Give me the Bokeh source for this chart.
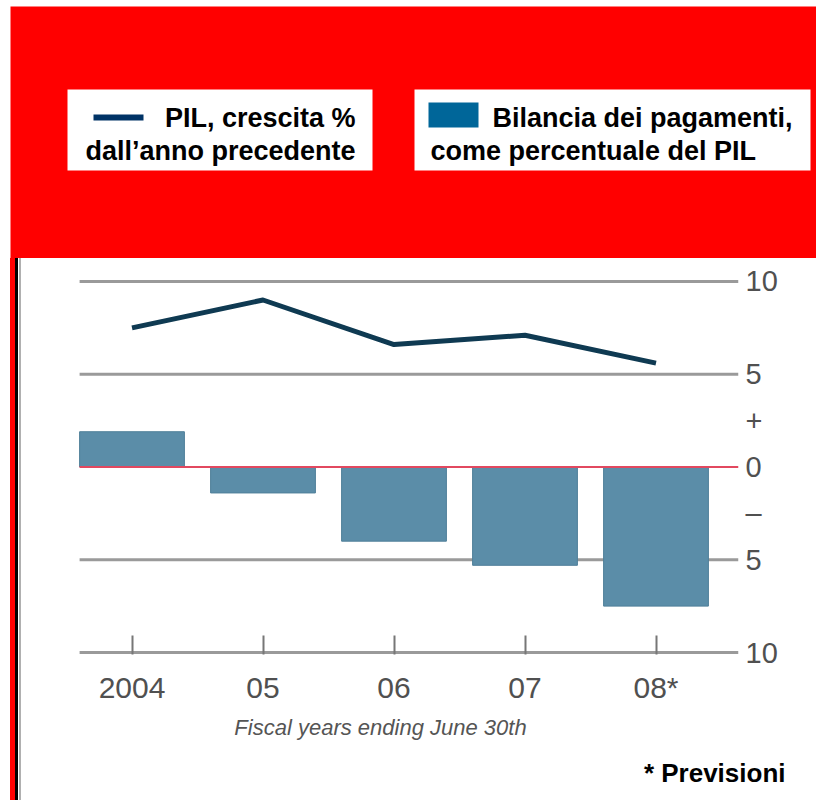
from bokeh.plotting import figure
from bokeh.layouts import column, row
from bokeh.models import (Range1d, FixedTicker, BoxAnnotation, Label, Title, Div)
from bokeh.embed import file_html
from bokeh.resources import INLINE

# ---------------- data ----------------
years = ["2004", "05", "06", "07", "08*"]
gdp_growth = [7.5, 9.0, 6.6, 7.1, 5.6]          # PIL, crescita %
current_account = [1.9, -1.4, -4.0, -5.3, -7.5]  # Bilancia dei pagamenti, % del PIL
y_ticks = [-10, -5, -2.5, 0, 2.5, 5, 10]
y_tick_labels = ["10", "5", "\u2013", "0", "+", "5", "10"]
grid_values = [-10, -5, 5, 10]
bar_width = 0.8

legend_gdp = ["PIL, crescita %", "dall\u2019anno precedente"]
legend_ca = ["Bilancia dei pagamenti,", "come percentuale del PIL"]
x_title = "Fiscal years ending June 30th"
note_text = "* Previsioni"

# ---------------- layout (page pixels) ----------------
W, H = 816, 800
HEAD = 258            # height of the red header
STRIP = 22            # width of the left rule strip
BODY_H = H - HEAD
MAIN_W = W - STRIP

# ---------------- header figure ----------------
head = figure(width=W, height=HEAD, output_backend="svg", toolbar_location=None,
              x_range=Range1d(0, W), y_range=Range1d(0, HEAD),
              min_border=0, min_border_left=0, min_border_right=0,
              min_border_top=0, min_border_bottom=0)
head.axis.visible = False
head.grid.visible = False
head.outline_line_color = None
head.background_fill_color = "white"
head.border_fill_color = "white"


def hbox(l, r, t, b, color):
    head.add_layout(BoxAnnotation(left=l, right=r, top=HEAD - t, bottom=HEAD - b,
                                  fill_color=color, fill_alpha=1.0,
                                  line_color=None))


hbox(10, W + 5, 6, HEAD + 5, "#ff0000")   # red band
hbox(67, 372, 89, 170, "white")           # legend box 1
hbox(414, 810, 89, 170, "white")          # legend box 2
hbox(93, 143, 114, 120, "#003366")        # line sample
hbox(428, 478, 102, 127, "#006699")       # bar sample


def hlab(fx, fy, text, align="left"):
    head.add_layout(Label(x=fx, y=HEAD - fy, text=text, text_align=align,
                          text_baseline="middle", text_font="Liberation Sans",
                          text_font_size="27px", text_font_style="bold",
                          text_color="black"))


hlab(355, 117, legend_gdp[0], align="right")
hlab(355, 150, legend_gdp[1], align="right")
hlab(492, 117, legend_ca[0])
hlab(430, 150, legend_ca[1])

# ---------------- left rule strip (plain block, no text) ----------------
strip = Div(text="", width=STRIP, height=BODY_H,
            styles={"background": "linear-gradient(to right, white 0px, white 10px, "
                                  "#ff0000 10px, #ff0000 15px, #000000 15px, #000000 18px, "
                                  "white 18px, white 19px, #b0b0b0 19px, #b0b0b0 21px, "
                                  "white 21px, white 22px)",
                    "margin": "0", "padding": "0"})

# ---------------- main chart ----------------
FL, FR, FT, FB = STRIP, 738, HEAD, 655     # frame edges in page pixels
CAT0, CAT_STEP = 131.5, 131.0              # page pixel of first category, px per category
ZERO, UNIT = 467.0, 18.6                   # page pixel of y=0, px per unit
X0 = (FL - CAT0) / CAT_STEP
X1 = (FR - CAT0) / CAT_STEP
Y0 = (ZERO - FB) / UNIT
Y1 = (ZERO - FT) / UNIT

xs = list(range(len(years)))

p = figure(width=MAIN_W, height=BODY_H, output_backend="svg",
           toolbar_location=None,
           x_range=Range1d(X0, X1), y_range=Range1d(Y0, Y1),
           x_axis_location="below", y_axis_location="right",
           min_border_left=0, min_border_right=W - FR,
           min_border_top=0, min_border_bottom=H - FB)
p.outline_line_color = None
p.background_fill_color = "white"
p.border_fill_color = "white"
p.xgrid.visible = False
p.ygrid.visible = False

g_left = xs[0] - bar_width / 2
p.segment(x0=[g_left] * len(grid_values), y0=grid_values,
          x1=[X1] * len(grid_values), y1=grid_values,
          line_color="#9a9a9a", line_width=3)

p.vbar(x=xs, top=current_account, bottom=0, width=bar_width,
       fill_color="#5b8da8", line_color="#4f7f99", line_width=1)
p.segment(x0=[g_left], y0=[0], x1=[X1], y1=[0],
          line_color="#e2485f", line_width=2)
p.line(x=xs, y=gdp_growth, line_color="#0f3a52", line_width=5,
       line_join="round")

xa = p.xaxis[0]
xa.ticker = FixedTicker(ticks=xs)
xa.major_label_overrides = {i: t for i, t in zip(xs, years)}
xa.axis_line_color = None
xa.major_tick_in = 19
xa.major_tick_out = 0
xa.major_tick_line_color = "#777777"
xa.major_tick_line_width = 2
xa.minor_tick_line_color = None
xa.major_label_standoff = 16
xa.major_label_text_font = "Liberation Sans"
xa.major_label_text_font_size = "30px"
xa.major_label_text_color = "#505050"
xa.axis_label = x_title
xa.axis_label_text_font = "Liberation Sans"
xa.axis_label_text_font_style = "italic"
xa.axis_label_text_font_size = "22px"
xa.axis_label_text_color = "#555555"
xa.axis_label_standoff = 8

ya = p.yaxis[0]
ya.ticker = FixedTicker(ticks=y_ticks)
ya.major_label_overrides = {t: l for t, l in zip(y_ticks, y_tick_labels)}
ya.axis_line_color = None
ya.major_tick_line_color = None
ya.minor_tick_line_color = None
ya.major_tick_out = 0
ya.major_tick_in = 0
ya.major_label_standoff = 7
ya.major_label_text_font = "Liberation Sans"
ya.major_label_text_font_size = "29px"
ya.major_label_text_color = "#505050"

note = Title(text=note_text, align="right", offset=-47, standoff=26,
             text_font="Liberation Sans", text_font_size="26px",
             text_font_style="bold", text_color="black")
p.add_layout(note, "below")

layout = column(head, row(strip, p, spacing=0), spacing=0)
open("out.html", "w").write(file_html(layout, INLINE))
